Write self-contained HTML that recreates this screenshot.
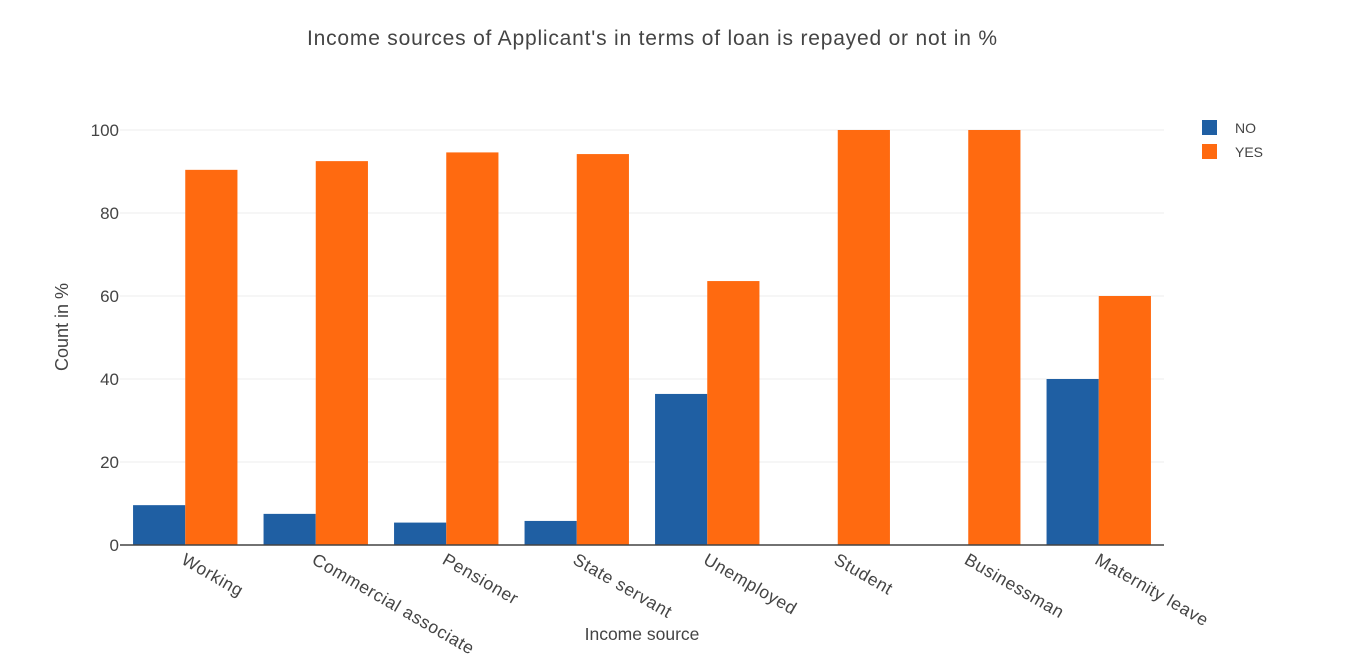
<!DOCTYPE html>
<html><head><meta charset="utf-8">
<style>
body{margin:0;background:#fff;width:1352px;height:666px;overflow:hidden;font-family:"Liberation Sans",sans-serif;}
svg text{font-family:"Liberation Sans",sans-serif;fill:#444;}
</style></head>
<body>
<svg id="chart" width="1352" height="666" xmlns="http://www.w3.org/2000/svg">
<text x="307" y="45" font-size="21" textLength="690" lengthAdjust="spacing">Income sources of Applicant's in terms of loan is repayed or not  in %</text>
<g id="grid"></g>
<g id="bars"></g>
<g id="xlabels"></g>
<line x1="120" x2="1164" y1="545" y2="545" stroke="#444" stroke-width="1.5"/>
<text x="642" y="640" text-anchor="middle" font-size="17.5">Income source</text>
<text transform="translate(68,327) rotate(-90)" text-anchor="middle" font-size="18">Count in %</text>
<g>
<rect x="1202" y="120" width="15" height="15" fill="#1f5fa3"/>
<text x="1235" y="133" font-size="14">NO</text>
<rect x="1202" y="144" width="15" height="15" fill="#ff6a10"/>
<text x="1235" y="157" font-size="14">YES</text>
</g>
</svg>
<script>
const categories=["Working","Commercial associate","Pensioner","State servant","Unemployed","Student","Businessman","Maternity leave"];
const noValues=[9.6,7.5,5.4,5.8,36.4,0,0,40];
const yesValues=[90.4,92.5,94.6,94.2,63.6,100,100,60];
const yTicks=[0,20,40,60,80,100];
const NS="http://www.w3.org/2000/svg";
const X0=120,X1=1164,Y0=545,Y100=130;
const y=v=>Y0-(v/100)*(Y0-Y100);
const bw=(X1-X0)/categories.length;
const cx=i=>X0+bw*(i+0.5);
function mk(t,a,p){const e=document.createElementNS(NS,t);for(const k in a)e.setAttribute(k,a[k]);p.appendChild(e);return e;}
const grid=document.getElementById('grid'),bars=document.getElementById('bars'),xl=document.getElementById('xlabels');
yTicks.forEach(t=>{
 if(t>0){const l=mk('line',{x1:X0,x2:X1,y1:y(t),y2:y(t),stroke:'#eee'},grid);
 
 }
 const tx=mk('text',{x:X0-1,y:y(t)+6,'text-anchor':'end','font-size':'17'},grid);tx.textContent=t;
 
 
});
const w=bw*0.8/2;
categories.forEach((c,i)=>{
 const left=cx(i)-w;
 const b1=mk('rect',{x:left,y:y(noValues[i]),width:w,height:Y0-y(noValues[i]),fill:'#1f5fa3'},bars);
 
 
 const b2=mk('rect',{x:left+w,y:y(yesValues[i]),width:w,height:Y0-y(yesValues[i]),fill:'#ff6a10'},bars);
 
 
 const t=mk('text',{transform:`translate(${cx(i)-5},${Y0+18}) rotate(30)`,'font-size':'17.5','letter-spacing':'0.6'},xl);
 t.textContent=c;
 
 
});
</script>
</body></html>
